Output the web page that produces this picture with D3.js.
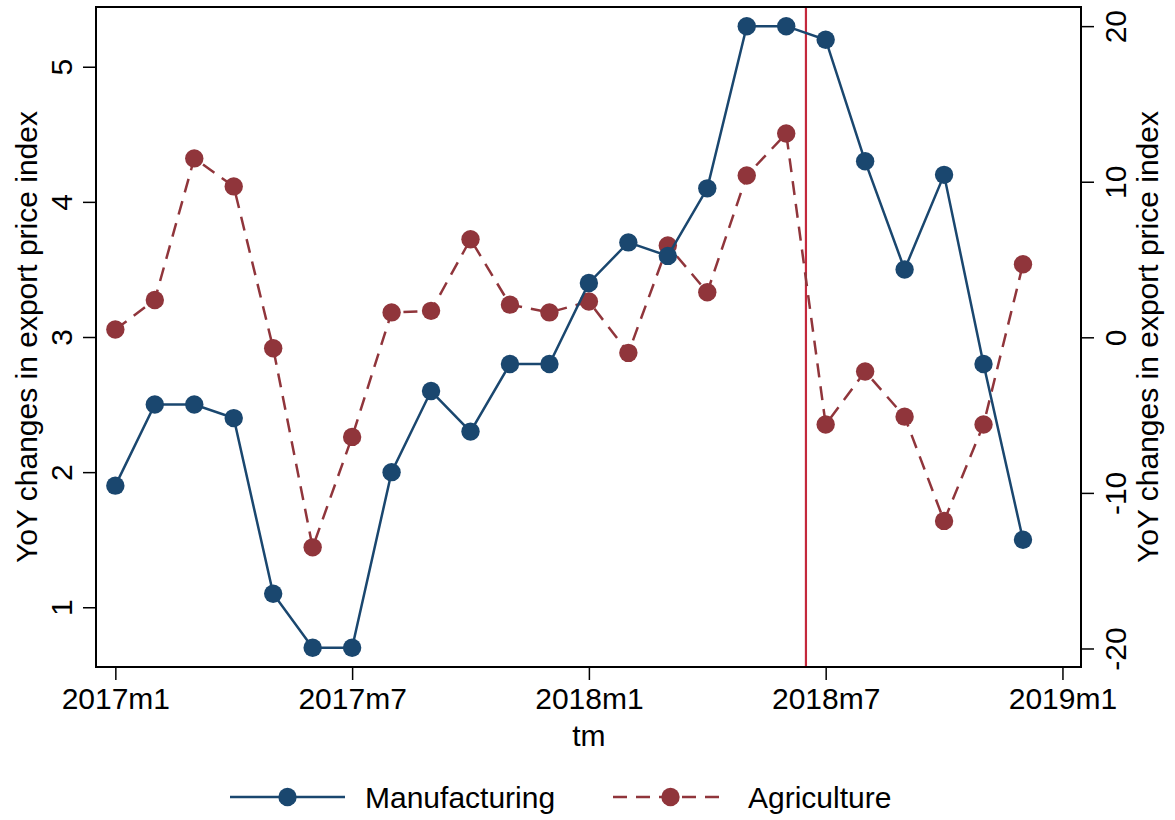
<!doctype html>
<html>
<head>
<meta charset="UTF-8">
<script src="https://d3js.org/d3.v7.min.js"></script>
<style>
body { margin: 0; background: #fff; }
svg { font-family: "Liberation Sans", Arial, sans-serif; }
.axis path, .axis line { stroke: #000; }
</style>
</head>
<body>
<script>
// data: monthly YoY changes, 2017m1 .. 2018m12
var months = ["2017m1","2017m2","2017m3","2017m4","2017m5","2017m6","2017m7","2017m8","2017m9","2017m10","2017m11","2017m12",
              "2018m1","2018m2","2018m3","2018m4","2018m5","2018m6","2018m7","2018m8","2018m9","2018m10","2018m11","2018m12"];
var manufacturing = [1.9, 2.5, 2.5, 2.4, 1.1, 0.7, 0.7, 2.0, 2.6, 2.3, 2.8, 2.8,
                     3.4, 3.7, 3.6, 4.1, 5.3, 5.3, 5.2, 4.3, 3.5, 4.2, 2.8, 1.5];
var agriculture = [0.5, 2.4, 11.5, 9.7, -0.7, -13.5, -6.4, 1.6, 1.7, 6.3, 2.1, 1.6,
                   2.3, -1.0, 5.9, 2.9, 10.4, 13.1, -5.6, -2.2, -5.1, -11.8, -5.6, 4.7];
var xTicks = [0, 6, 12, 18, 24];
var xTickLabels = ["2017m1", "2017m7", "2018m1", "2018m7", "2019m1"];
var leftTicks = [1, 2, 3, 4, 5];
var rightTicks = [-20, -10, 0, 10, 20];
var policyMonth = 17.5;

var w = 1175, h = 820;
var box = {left: 96, right: 1081, top: 7, bottom: 667};
var navy = "#1a476f", maroon = "#90353b", red = "#c4283c";
var font = "Liberation Sans, Arial, sans-serif";

var svg = d3.select("body").append("svg")
    .attr("width", w)
    .attr("height", h);

var x = d3.scaleLinear().domain([-0.49, 24.47]).range([box.left, box.right]);
var yL = d3.scaleLinear().domain([0.558, 5.442]).range([box.bottom, box.top]);
var yR = d3.scaleLinear().domain([-21.19, 21.23]).range([box.bottom, box.top]);

// frame
svg.append("rect")
    .attr("x", box.left).attr("y", box.top)
    .attr("width", box.right - box.left).attr("height", box.bottom - box.top)
    .attr("fill", "none").attr("stroke", "#000").attr("stroke-width", 2);

// x axis
var xAxis = svg.append("g").attr("class", "axis")
    .attr("transform", "translate(0," + box.bottom + ")")
    .call(d3.axisBottom(x).tickValues(xTicks).tickSize(13).tickPadding(8)
        .tickFormat(function(d, i) { return xTickLabels[i]; }));
xAxis.select(".domain").remove();
xAxis.selectAll("line").attr("stroke-width", 1.5);
xAxis.selectAll("text").attr("font-size", 30).attr("fill", "#000")
    .attr("font-family", font)
    .attr("dy", "0.71em");

// left axis, labels rotated
var gl = svg.append("g").attr("class", "axis")
    .attr("transform", "translate(" + box.left + ",0)")
    .call(d3.axisLeft(yL).tickValues(leftTicks).tickSize(13).tickFormat(function(d) { return String(d); }));
gl.select(".domain").remove();
gl.selectAll("line").attr("stroke-width", 1.5);
gl.selectAll("text")
    .attr("x", null).attr("dy", null)
    .attr("transform", "translate(-24,0) rotate(-90)")
    .attr("text-anchor", "middle")
    .attr("font-size", 30).attr("fill", "#000")
    .attr("font-family", font);

// right axis (plain hyphen for negatives, as in the original)
var gr = svg.append("g").attr("class", "axis")
    .attr("transform", "translate(" + box.right + ",0)")
    .call(d3.axisRight(yR).tickValues(rightTicks).tickSize(13).tickFormat(function(d) { return String(d); }));
gr.select(".domain").remove();
gr.selectAll("line").attr("stroke-width", 1.5);
gr.selectAll("text")
    .attr("x", null).attr("dy", null)
    .attr("transform", "translate(45,0) rotate(-90)")
    .attr("text-anchor", "middle")
    .attr("font-size", 30).attr("fill", "#000")
    .attr("font-family", font);

// axis titles
var midY = (box.top + box.bottom) / 2;
svg.append("text")
    .attr("transform", "translate(37," + midY + ") rotate(-90)")
    .attr("text-anchor", "middle").attr("font-size", 30)
    .text("YoY changes in export price index");
svg.append("text")
    .attr("transform", "translate(1158," + midY + ") rotate(-90)")
    .attr("text-anchor", "middle").attr("font-size", 30)
    .text("YoY changes in export price index");
svg.append("text")
    .attr("x", x(12)).attr("y", 746)
    .attr("text-anchor", "middle").attr("font-size", 30)
    .text("tm");

// vertical reference line
svg.append("line")
    .attr("x1", x(policyMonth)).attr("x2", x(policyMonth))
    .attr("y1", box.top + 1).attr("y2", box.bottom - 1)
    .attr("stroke", red).attr("stroke-width", 2.2);

// series
var lineL = d3.line().x(function(d, i) { return x(i); }).y(function(d) { return yL(d); });
var lineR = d3.line().x(function(d, i) { return x(i); }).y(function(d) { return yR(d); });

svg.append("path").datum(agriculture)
    .attr("d", lineR).attr("fill", "none")
    .attr("stroke", maroon).attr("stroke-width", 2.5)
    .attr("stroke-dasharray", "14,9");
svg.selectAll(".agpt").data(agriculture).enter().append("circle")
    .attr("class", "agpt")
    .attr("cx", function(d, i) { return x(i); })
    .attr("cy", function(d) { return yR(d); })
    .attr("r", 9.2).attr("fill", maroon);

svg.append("path").datum(manufacturing)
    .attr("d", lineL).attr("fill", "none")
    .attr("stroke", navy).attr("stroke-width", 2.5);
svg.selectAll(".mfpt").data(manufacturing).enter().append("circle")
    .attr("class", "mfpt")
    .attr("cx", function(d, i) { return x(i); })
    .attr("cy", function(d) { return yL(d); })
    .attr("r", 9.2).attr("fill", navy);

// legend
var legendItems = [
    {name: "Manufacturing", color: navy, dash: null, x0: 230},
    {name: "Agriculture", color: maroon, dash: "14,9", x0: 613}
];
var lg = svg.append("g").attr("transform", "translate(0,797)");
legendItems.forEach(function(it) {
    lg.append("line")
        .attr("x1", it.x0).attr("x2", it.x0 + 115)
        .attr("stroke", it.color).attr("stroke-width", 2.5)
        .attr("stroke-dasharray", it.dash);
    lg.append("circle").attr("cx", it.x0 + 57.5).attr("r", 9.2).attr("fill", it.color);
    lg.append("text").attr("x", it.x0 + 135).attr("y", 11)
        .attr("font-size", 30).text(it.name);
});
</script>
</body>
</html>
